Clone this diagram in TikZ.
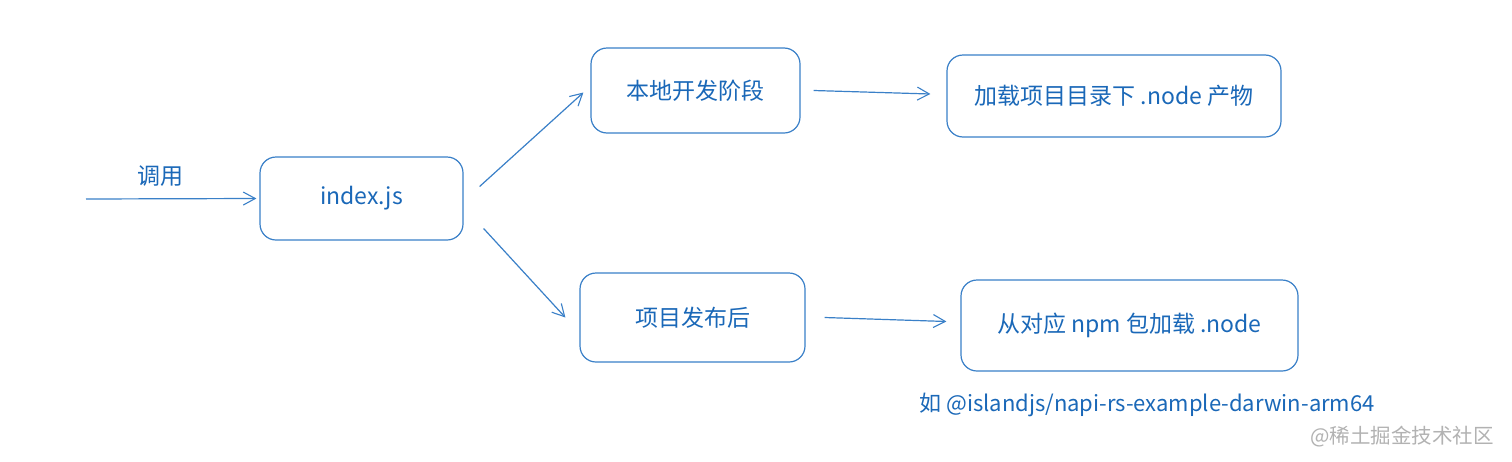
\documentclass[tikz,border=0pt]{standalone}
\usepackage{fontspec}
\setmainfont{Noto Sans CJK SC}
\usetikzlibrary{arrows.meta}
\definecolor{exblue}{HTML}{1A68B8}
\definecolor{exline}{HTML}{3A80C8}
\tikzset{
  box/.style={draw=exline, line width=1.2pt, rounded corners=16pt, text=exblue,
    font=\fontsize{23}{27}\selectfont, inner sep=0pt},
  arr/.style={draw=exline, line width=1.2pt, -{Straight Barb[length=12pt,width=13pt,line width=1.1pt]}},
  lbl/.style={text=exblue, font=\fontsize{23}{27}\selectfont, inner sep=0pt},
}
\begin{document}
\begin{tikzpicture}[x=1pt,y=-1pt]
\useasboundingbox[fill=white] (0,0) rectangle (1512,461);
\node[box, minimum width=203pt, minimum height=83pt] (idx) at (361.5,198.5) {index.js};
\node[box, minimum width=209pt, minimum height=85pt] (top) at (695.5,90.5) {本地开发阶段};
\node[box, minimum width=334pt, minimum height=82pt] (topr) at (1114,96) {加载项目目录下 .node 产物};
\node[box, minimum width=225pt, minimum height=89pt] (bot) at (692.5,317.5) {项目发布后};
\node[box, minimum width=337pt, minimum height=91pt] (botr) at (1129.5,325.5) {从对应 npm 包加载 .node};
\coordinate (in) at (86,199);
\node[lbl] (call) at (160,176) {调用};
\node[lbl, font=\fontsize{22}{26}\selectfont] (note) at (1147,405) {如 @islandjs/napi-rs-example-darwin-arm64};
\node[text=black!30, font=\fontsize{20.5}{24}\selectfont, inner sep=0pt] (wm) at (1402,437) {@稀土掘金技术社区};
\draw[arr] (in) -- ([xshift=-3pt]idx.west);
\draw[arr] ([shift={(16,-12)}]idx.east) -- ([shift={(-7,2)}]top.west);
\draw[arr] ([shift={(20,30)}]idx.east) -- ([shift={(-14,0)}]bot.west);
\draw[arr] ([shift={(13,0)}]top.east) -- ([shift={(-16,-2)}]topr.west);
\draw[arr] ([shift={(19,0)}]bot.east) -- ([shift={(-14,-4)}]botr.west);
\end{tikzpicture}
\end{document}
